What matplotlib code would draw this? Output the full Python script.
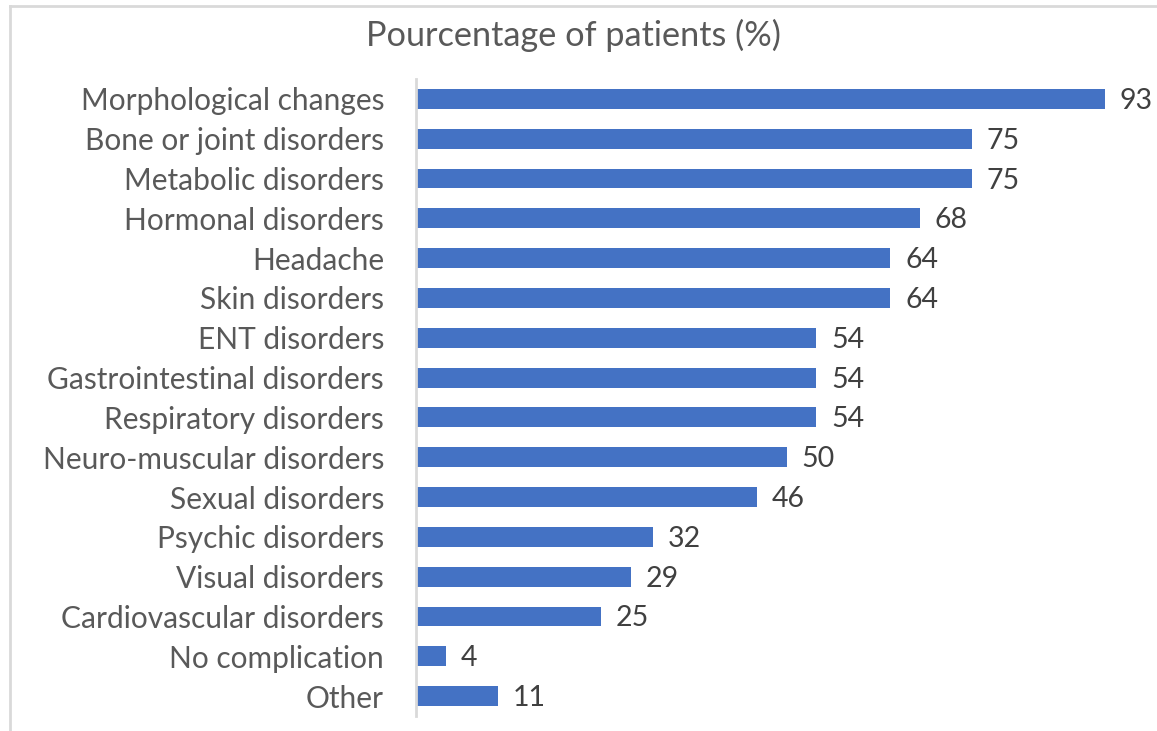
import matplotlib
matplotlib.use('Agg')
import matplotlib.pyplot as plt
from matplotlib.lines import Line2D

# Data
categories = ['Morphological changes', 'Bone or joint disorders', 'Metabolic disorders',
              'Hormonal disorders', 'Headache', 'Skin disorders', 'ENT disorders',
              'Gastrointestinal disorders', 'Respiratory disorders', 'Neuro-muscular disorders',
              'Sexual disorders', 'Psychic disorders', 'Visual disorders',
              'Cardiovascular disorders', 'No complication', 'Other']
values = [93, 75, 75, 68, 64, 64, 54, 54, 54, 50, 46, 32, 29, 25, 4, 11]
title = 'Pourcentage of patients (%)'

plt.rcParams['font.family'] = ['Lato', 'DejaVu Sans']
barColor = '#4472C4'
labelColor = '#595959'
valueColor = '#404040'

fig = plt.figure(figsize=(11.57, 7.31), dpi=100)
ax = fig.add_axes([416/1157, 1 - 716/731, 1 - 416/1157, (716 - 79)/731])

ypos = list(range(len(categories)))
ax.barh(ypos, values, height=0.5, color=barColor)
for y, v in zip(ypos, values):
    ax.text(v + 2.0, y + 0.05, str(v), va='center', ha='left', fontsize=20.5, color=valueColor)

ax.set_yticks(ypos)
ax.set_yticklabels(categories, fontsize=21.5, color=labelColor)
ax.set_ylim(len(categories) - 0.5, -0.5)
ax.set_xlim(0, 100)
ax.set_xticks([])
ax.tick_params(axis='y', length=0, pad=23)
for side in ['top', 'right', 'bottom']:
    ax.spines[side].set_visible(False)
ax.spines['left'].set_color('#D9D9D9')
ax.spines['left'].set_linewidth(2)

fig.text(573/1157, 1 - 35/731, title, ha='center', va='center', fontsize=24.7, color=labelColor)

# Chart border (only top and left edges show in the crop)
fig.add_artist(Line2D([10/1157, 1], [1 - 6/731, 1 - 6/731], color='#D9D9D9', lw=2,
                      transform=fig.transFigure))
fig.add_artist(Line2D([10/1157, 10/1157], [1 - 6/731, 0], color='#D9D9D9', lw=2,
                      transform=fig.transFigure))

plt.savefig('out.png', dpi=100)
